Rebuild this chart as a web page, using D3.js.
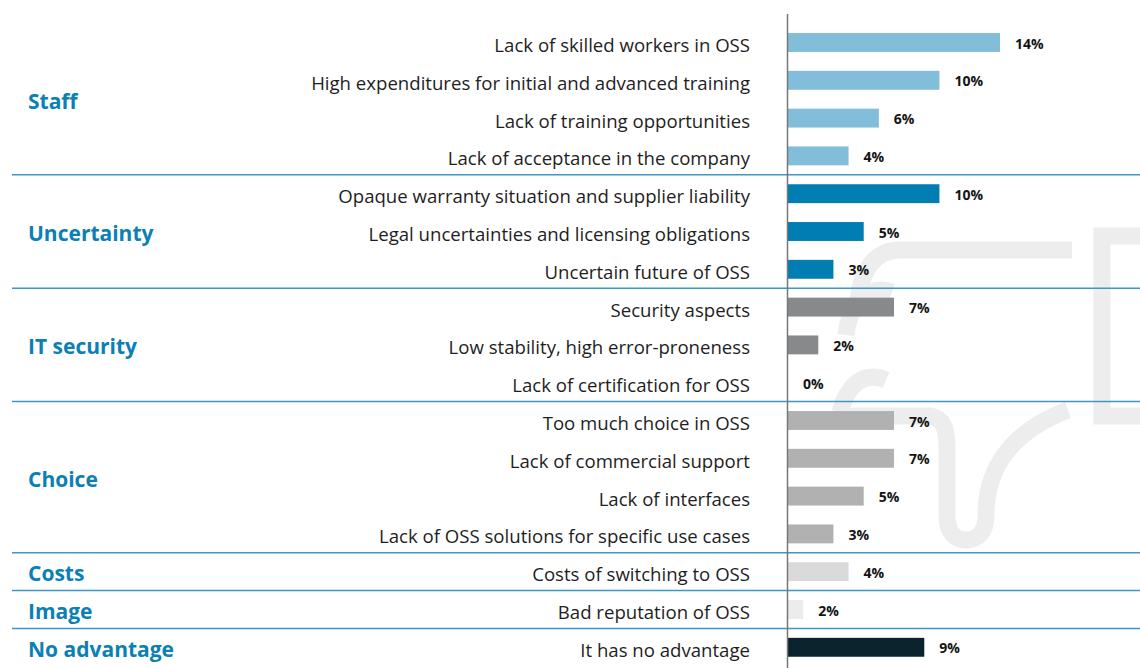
<!DOCTYPE html>
<html>
<head>
<meta charset="utf-8">
<script src="https://cdn.jsdelivr.net/npm/d3@7"></script>
<style>
  body { margin: 0; background: #fff; }
  svg { display: block; font-family: "Open Sans", sans-serif; }
</style>
</head>
<body>
<div id="chart"></div>
<script>
// Barriers to OSS adoption, share of respondents
const groups = ['Staff', 'Uncertainty', 'IT security', 'Choice', 'Costs', 'Image', 'No advantage'];
const groupColors = ['#82bdd9', '#007db3', '#88898b', '#b1b1b2', '#dadadb', '#ececec', '#0a232c'];

const items = [
    'Lack of skilled workers in OSS',
    'High expenditures for initial and advanced training',
    'Lack of training opportunities',
    'Lack of acceptance in the company',
    'Opaque warranty situation and supplier liability',
    'Legal uncertainties and licensing obligations',
    'Uncertain future of OSS',
    'Security aspects',
    'Low stability, high error-proneness',
    'Lack of certification for OSS',
    'Too much choice in OSS',
    'Lack of commercial support',
    'Lack of interfaces',
    'Lack of OSS solutions for specific use cases',
    'Costs of switching to OSS',
    'Bad reputation of OSS',
    'It has no advantage'
];
const itemGroup = [0, 0, 0, 0, 1, 1, 1, 2, 2, 2, 3, 3, 3, 3, 4, 5, 6];
// bar lengths as drawn in the source
const shares = [14, 10, 6, 4, 10, 5, 3, 7, 2, 0, 7, 7, 5, 3, 4, 1, 9];
// printed labels
const shareLabels = ['14%', '10%', '6%', '4%', '10%', '5%', '3%', '7%', '2%', '0%', '7%', '7%', '5%', '3%', '4%', '2%', '9%'];

const width = 1140;
const height = 668;
const axisX = 788;

const svg = d3.select('#chart').append('svg')
    .attr('width', width)
    .attr('height', height);

const x = d3.scaleLinear().domain([0, 14]).range([axisX, 1000]);
const y = d3.scaleBand()
    .domain(d3.range(items.length))
    .range([23.6, 666.2])
    .paddingInner(0.5)
    .paddingOuter(0.25);

// light watermark in the background
const mark = svg.append('g')
    .attr('fill', 'none')
    .attr('stroke', '#ecedec')
    .attr('stroke-width', 17);
mark.append('path')
    .attr('d', 'M1140,236 L1102,236 L1102,416 L1140,416')
    .attr('stroke-linejoin', 'miter');
mark.append('path')
    .attr('d', 'M1072,250 L900,250 C876,250 862,268 858,300');
mark.append('path')
    .attr('d', 'M892,292 C868,284 850,302 846,335');
mark.append('path')
    .attr('d', 'M886,380 C862,370 846,388 840,412');
mark.append('path')
    .attr('d', 'M845,416 L930,416 C944,418 947,430 947,448 L947,515 C947,534 956,540 966,540 C978,540 986,532 986,515 C986,470 1010,432 1068,410');

// group separators
const step = y.step();
const gap = step - y.bandwidth();
const groupStarts = groups.map((g, gi) => itemGroup.indexOf(gi));
svg.append('g')
    .selectAll('line')
    .data(groupStarts.slice(1))
    .join('line')
    .attr('x1', 12)
    .attr('x2', width)
    .attr('y1', d => y(d) - gap / 2)
    .attr('y2', d => y(d) - gap / 2)
    .attr('stroke', '#3d98c6')
    .attr('stroke-width', 1.5);

// bars
svg.append('g')
    .selectAll('rect')
    .data(shares)
    .join('rect')
    .attr('x', x(0))
    .attr('y', (d, i) => y(i))
    .attr('width', d => x(d) - x(0))
    .attr('height', y.bandwidth())
    .attr('fill', (d, i) => groupColors[itemGroup[i]]);

// value labels
svg.append('g')
    .selectAll('text')
    .data(shares)
    .join('text')
    .attr('x', d => x(d) + 15)
    .attr('y', (d, i) => y(i) + y.bandwidth() / 2 + 6)
    .text((d, i) => shareLabels[i])
    .style('font-size', '14px')
    .style('font-weight', 'bold')
    .style('fill', '#141414');

// item labels
svg.append('g')
    .selectAll('text')
    .data(items)
    .join('text')
    .attr('x', 750)
    .attr('y', (d, i) => y(i) + y.bandwidth() / 2 + 9.5)
    .attr('text-anchor', 'end')
    .text(d => d)
    .style('font-size', '18.6px')
    .style('fill', '#1e1e1e');

// group labels
svg.append('g')
    .selectAll('text')
    .data(groups)
    .join('text')
    .attr('x', 28)
    .attr('y', (d, gi) => {
        const rows = d3.range(items.length).filter(i => itemGroup[i] === gi);
        return d3.mean(rows, i => y(i) + y.bandwidth() / 2) + 9.5;
    })
    .text(d => d)
    .style('font-size', '21px')
    .style('font-weight', 'bold')
    .style('fill', '#0a80b5');

// axis line
svg.append('line')
    .attr('x1', axisX - 0.5)
    .attr('x2', axisX - 0.5)
    .attr('y1', 14)
    .attr('y2', height)
    .attr('stroke', '#777')
    .attr('stroke-width', 1.5);
</script>
</body>
</html>
